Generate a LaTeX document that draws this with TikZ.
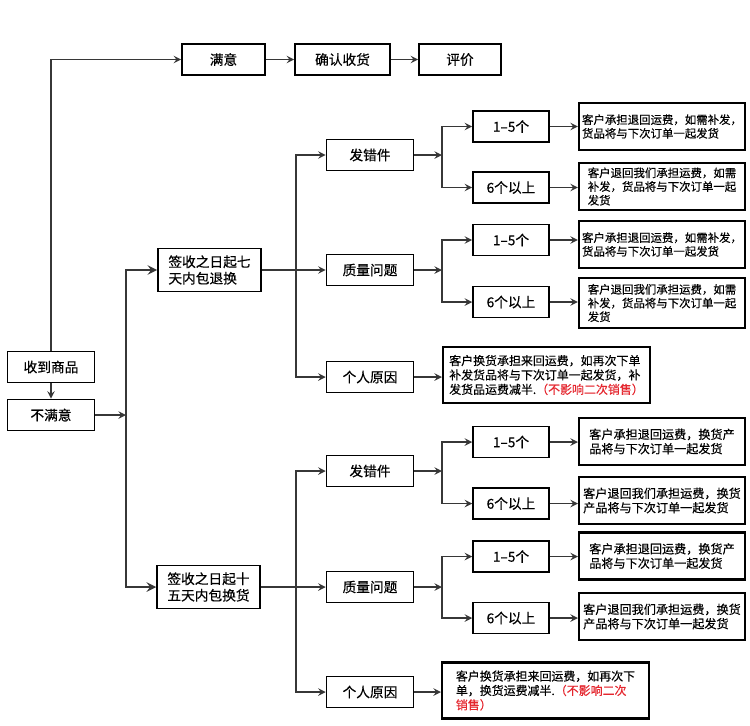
\documentclass[tikz,border=0pt]{standalone}
\usepackage{fontspec}
\setmainfont{Noto Sans CJK SC}[FakeBold=0.4]
\usetikzlibrary{positioning, arrows, calc}
\tikzset{>=stealth}
\definecolor{wire}{RGB}{55,55,55}
\definecolor{warnred}{RGB}{228,38,46}

\begin{document}
\begin{tikzpicture}[
    x=0.02cm, y=-0.02cm,
    font=\fontsize{7.8}{9.4}\selectfont,
    box/.style={draw, line width=0.9pt, align=center,
                inner sep=1pt, minimum height=0.62cm},
    startbox/.style={box, minimum width=1.74cm},
    period/.style={box, minimum width=2.06cm, minimum height=0.86cm, align=left},
    reason/.style={box, minimum width=1.74cm},
    count/.style={box, minimum width=1.52cm},
    note/.style={box, line width=1.2pt, minimum width=3.32cm,
                 minimum height=0.94cm, align=left,
                 font=\fontsize{6.5}{7.8}\selectfont},
    wide note/.style={note, font=\fontsize{6.9}{8.2}\selectfont},
    memo/.style={note, minimum width=4.14cm, minimum height=1.12cm,
                 font=\fontsize{6.8}{8.2}\selectfont},
    link/.style={->, wire, line width=0.9pt},
    trunk/.style={link, line width=1.4pt},
  ]
  \useasboundingbox (0,0) rectangle (750,725);

  % top row
  \node[box, minimum width=1.66cm] (sat)  at (223.5,59.5) {满意};
  \node[box, minimum width=1.9cm]  (conf) at (342.5,59.5) {确认收货};
  \node[box, minimum width=1.64cm] (rate) at (460,59.5)   {评价};

  % left column
  \node[startbox] (recv)  at (51,367) {收到商品};
  \node[startbox] (unsat) at (51,415) {不满意};

  \node[period] (seven)   at (209.5,270) {签收之日起七\\天内包退换};
  \node[period] (fifteen) at (208.5,587) {签收之日起十\\五天内包换货};

  % seven days
  \node[reason] (uwrong) at (370,155) {发错件};
  \node[reason] (uqual)  at (370,270) {质量问题};
  \node[reason] (upers)  at (370,377) {个人原因};

  \node[count] (ua1) at (511,126.5) {1–5个};
  \node[count] (ua6) at (511,187.5) {6个以上};
  \node[count] (ub1) at (511,240)   {1–5个};
  \node[count] (ub6) at (511,302)   {6个以上};

  \node[note] (una1) at (662,126.5)
    {客户承担退回运费，如需补发，\\货品将与下次订单一起发货};
  \node[note] (una6) at (662,186.5)
    {客户退回我们承担运费，如需\\补发，货品将与下次订单一起\\发货};
  \node[note] (unb1) at (662,244.5)
    {客户承担退回运费，如需补发，\\货品将与下次订单一起发货};
  \node[note, minimum height=1cm] (unb6) at (662,303)
    {客户退回我们承担运费，如需\\补发，货品将与下次订单一起\\发货};
  \node[memo] (umemo) at (546.5,375)
    {客户换货承担来回运费，如再次下单\\补发货品将与下次订单一起发货，补\\发货品运费减半.\textcolor{warnred}{（不影响二次销售）}};

  % fifteen days
  \node[reason] (lwrong) at (370,471) {发错件};
  \node[reason] (lqual)  at (370,587) {质量问题};
  \node[reason] (lpers)  at (370,692) {个人原因};

  \node[count] (la1) at (511,442)   {1–5个};
  \node[count] (la6) at (511,503.5) {6个以上};
  \node[count] (lb1) at (511,556.5) {1–5个};
  \node[count] (lb6) at (511,618)   {6个以上};

  \node[wide note] (lna1) at (662,441.5)
    {客户承担退回运费，换货产\\品将与下次订单一起发货};
  \node[wide note] (lna6) at (662,500.5)
    {客户退回我们承担运费，换货\\产品将与下次订单一起发货};
  \node[wide note] (lnb1) at (662,556)
    {客户承担退回运费，换货产\\品将与下次订单一起发货};
  \node[wide note] (lnb6) at (662,616.5)
    {客户退回我们承担运费，换货\\产品将与下次订单一起发货};
  \node[memo] (lmemo) at (545.5,690.5)
    {客户换货承担来回运费，如再次下\\单，换货运费减半.\textcolor{warnred}{（不影响二次}\\\textcolor{warnred}{销售）}};

  % junctions
  \coordinate (j0) at (126,415);
  \coordinate (j1) at (296,270);
  \coordinate (j2) at (296,587);
  \coordinate (ja) at (442,155);
  \coordinate (jb) at (442,270);
  \coordinate (jc) at (442,471);
  \coordinate (jd) at (442,587);

  % connectors
  \draw[link] (recv) |- (sat);
  \draw[link] (sat) -- (conf);
  \draw[link] (conf) -- (rate);
  \draw[link] (recv) -- (unsat);

  \draw[link] (unsat) -- (j0);
  \draw[trunk] (j0) |- (seven);
  \draw[trunk] (j0) |- (fifteen);

  \draw[link] (seven) -- (uqual);
  \draw[link] (j1) |- (uwrong);
  \draw[link] (j1) |- (upers);
  \draw[link] (fifteen) -- (lqual);
  \draw[link] (j2) |- (lwrong);
  \draw[link] (j2) |- (lpers);

  \draw[link] (uwrong) -- (ja);
  \draw[link] (ja) |- (ua1);
  \draw[link] (ja) |- (ua6);
  \draw[link] (uqual) -- (jb);
  \draw[link] (jb) |- (ub1);
  \draw[link] (jb) |- (ub6);
  \draw[link] (lwrong) -- (jc);
  \draw[link] (jc) |- (la1);
  \draw[link] (jc) |- (la6);
  \draw[link] (lqual) -- (jd);
  \draw[link] (jd) |- (lb1);
  \draw[link] (jd) |- (lb6);

  \draw[link] (ua1) -- (ua1 -| una1.west);
  \draw[link] (ua6) -- (ua6 -| una6.west);
  \draw[link] (ub1) -- (ub1 -| unb1.west);
  \draw[link] (ub6) -- (ub6 -| unb6.west);
  \draw[link] (la1) -- (la1 -| lna1.west);
  \draw[link] (la6) -- (la6 -| lna6.west);
  \draw[link] (lb1) -- (lb1 -| lnb1.west);
  \draw[link] (lb6) -- (lb6 -| lnb6.west);
  \draw[link] (upers) -- (upers -| umemo.west);
  \draw[link] (lpers) -- (lpers -| lmemo.west);
\end{tikzpicture}
\end{document}
